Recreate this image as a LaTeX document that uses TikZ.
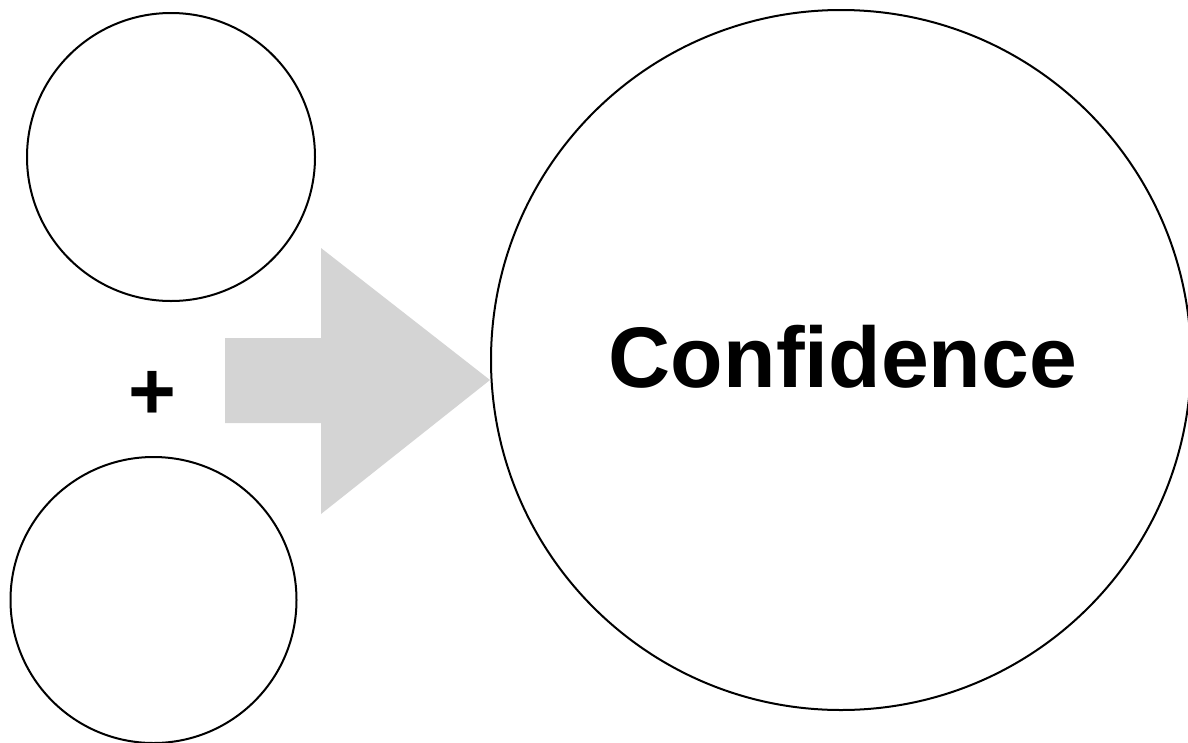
\documentclass[tikz,border=0pt]{standalone}
\usepackage{fontspec}
\setmainfont{Liberation Sans}
\usetikzlibrary{positioning}

\tikzset{
    bubble/.style={draw, circle, line width=2pt, inner sep=0pt},
    bigfont/.style={font=\fontsize{86}{86}\selectfont\bfseries}
}

\begin{document}
\begin{tikzpicture}[x=1pt, y=-1pt]
    \useasboundingbox (0, 0) rectangle (1188, 742);

    % ===== two small inputs =====
    \node[bubble, minimum size=288] (top) at (171, 157) {};
    \node[bubble, minimum size=286] (bottom) at (153.5, 600) {};
    \node[bigfont, font=\fontsize{82}{82}\selectfont\bfseries] (plus) at (152, 395) {+};

    % ===== result =====
    \node[bubble, minimum size=700] (conf) at (841, 360) {};
    \node[bigfont] (conftext) at ([xshift=2, yshift=3]conf.center) {Confidence};

    % Block arrow
    \fill[black!17] (225, 338) -- (321, 338) -- (321, 248) -- (490, 380)
        -- (321, 514) -- (321, 423) -- (225, 423) -- cycle;
\end{tikzpicture}
\end{document}
